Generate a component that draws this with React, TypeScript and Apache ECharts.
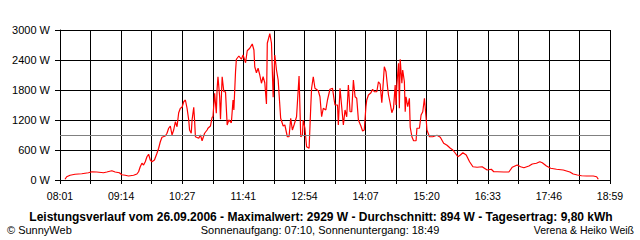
import React, { useEffect, useRef } from "react";
import * as echarts from "echarts";

// Minutes after 08:01
const minutes = [
  6, 8, 12, 18, 26, 34, 38, 44, 52, 56, 62, 66, 71, 74, 78, 82, 88, 92, 94, 96, 98, 100, 102, 104, 106, 108, 110, 113, 116, 118, 120, 122, 126, 128, 130, 132, 134, 136, 138, 140, 142, 144, 146, 148, 150, 152, 154, 155, 157, 158, 160, 161, 162, 166, 168, 170, 173, 176, 177, 180, 182, 183, 185, 187, 188, 189, 191, 192, 194, 196, 198, 200, 202, 205, 207, 208, 210, 211, 214, 217, 219, 222, 224, 227, 230, 232, 233, 235, 237, 239, 241, 243, 245, 247, 248, 251, 253, 255, 257, 259, 261, 264, 267, 269, 272, 274, 276, 278, 280, 283, 286, 288, 290, 291, 293, 295, 298, 300, 301, 303, 305, 309, 311, 313, 315, 318, 320, 323, 326, 328, 329, 332, 333, 335, 337, 339, 341, 343, 345, 347, 349, 351, 353, 355, 357, 360, 362, 364, 366, 367, 369, 372, 374, 376, 379, 381, 383, 385, 386, 388, 390, 392, 393, 395, 397, 399, 401, 402, 403, 405, 406, 407, 409, 410, 412, 413, 414, 416, 418, 419, 421, 423, 426, 427, 430, 432, 434, 436, 438, 439, 442, 446, 451, 455, 459, 463, 467, 470, 473, 476, 479, 482, 486, 490, 494, 499, 505, 511, 516, 519, 523, 531, 537, 541, 547, 551, 555, 561, 565, 570, 574, 577, 582, 587, 594, 602, 606, 610, 614, 619, 624, 630, 638, 642, 644,
];
// Power in W
const watts = [
  15, 65, 95, 115, 125, 145, 165, 160, 145, 160, 185, 160, 145, 105, 95, 80, 95, 120, 165, 265, 335, 300, 365, 465, 515, 400, 365, 400, 535, 635, 765, 855, 880, 935, 1035, 1080, 900, 1000, 1165, 1065, 1345, 1435, 1455, 1565, 1600, 1435, 1200, 1000, 935, 1200, 1455, 1200, 865, 835, 900, 785, 935, 1000, 1035, 1080, 1255, 1265, 1735, 1335, 1835, 2065, 1665, 1215, 2065, 1765, 1765, 1100, 1200, 1145, 1600, 1400, 2165, 2415, 2480, 2415, 2500, 2345, 2585, 2635, 2720, 2600, 2265, 2145, 2235, 2100, 1935, 2065, 1945, 1520, 2735, 2929, 2735, 1655, 2500, 2200, 2000, 1235, 1080, 1100, 865, 865, 1235, 1000, 1100, 1265, 2080, 865, 900, 1200, 1035, 665, 635, 1465, 1835, 2065, 1835, 1785, 1665, 1265, 1435, 1400, 1600, 1815, 1835, 1600, 1500, 1500, 1100, 1835, 1465, 1100, 1400, 1265, 1900, 1365, 1365, 2000, 1665, 1635, 1200, 1080, 980, 1000, 1465, 1600, 1700, 1745, 1815, 1765, 1765, 1965, 1920, 1545, 1765, 2265, 2165, 1835, 1700, 1535, 1345, 1435, 1900, 1500, 1900, 2335, 1435, 2415, 1935, 2200, 1965, 1365, 1665, 1465, 1635, 1055, 865, 785, 785, 1035, 1035, 1300, 1365, 1635, 1235, 1000, 865, 865, 895, 855, 735, 695, 635, 600, 535, 465, 500, 545, 500, 365, 265, 255, 265, 200, 215, 165, 165, 160, 160, 255, 300, 265, 245, 280, 320, 335, 365, 345, 280, 235, 215, 200, 180, 160, 120, 100, 85, 80, 80, 65, 15,
];

const timeLabels = ["08:01", "09:14", "10:27", "11:41", "12:54", "14:07", "15:20", "16:33", "17:46", "18:59"];
const AVERAGE = 894;
const Y_MAX = 3000;
const Y_STEP = 600;
const X_SPAN = 658;
const X_STEPS = 18;

const TITLE = "Leistungsverlauf vom 26.09.2006 - Maximalwert: 2929 W - Durchschnitt: 894 W - Tagesertrag: 9,80 kWh";
const LEFT_NOTE = "\u00A9 SunnyWeb";
const MID_NOTE = "Sonnenaufgang: 07:10, Sonnenuntergang: 18:49";
const RIGHT_NOTE = "Verena & Heiko Wei\u00DF";

export default function App() {
  const ref = useRef<HTMLDivElement>(null);
  useEffect(() => {
    if (!ref.current) return;
    const chart = echarts.init(ref.current, undefined, { renderer: "svg" });
    const step = X_SPAN / X_STEPS;
    const font = "Liberation Sans, Arial, sans-serif";
    chart.setOption({
      animation: false,
      backgroundColor: "#ffffff",
      grid: { left: 60, right: 30, top: 30, bottom: 60 },
      xAxis: {
        type: "value",
        min: 0,
        max: step * X_STEPS,
        interval: step,
        axisLine: { show: true, lineStyle: { color: "#000", width: 1 } },
        axisTick: { show: true, length: 4, lineStyle: { color: "#000" } },
        splitLine: { show: true, lineStyle: { color: "#000", width: 1 } },
        axisLabel: {
          show: true,
          margin: 10,
          color: "#000",
          fontSize: 10.5,
          fontFamily: font,
          showMinLabel: true,
          showMaxLabel: true,
          formatter: (v: number) => {
            const i = Math.round(v / step);
            return i % 2 === 0 ? timeLabels[i / 2] ?? "" : "";
          },
        },
      },
      yAxis: {
        type: "value",
        min: 0,
        max: Y_MAX,
        interval: Y_STEP,
        axisLine: { show: true, lineStyle: { color: "#000", width: 1 } },
        axisTick: { show: true, length: 5, lineStyle: { color: "#000" } },
        splitLine: { show: true, lineStyle: { color: "#000", width: 1 } },
        axisLabel: {
          margin: 10,
          color: "#000",
          fontSize: 11,
          fontFamily: font,
          formatter: (v: number) => `${v} W`,
        },
      },
      series: [
        {
          type: "line",
          data: minutes.map((m, i) => [m, watts[i]]),
          symbol: "none",
          lineStyle: { color: "#ff0000", width: 1.2 },
          z: 3,
          markLine: {
            silent: true,
            symbol: ["none", "none"],
            label: { show: false },
            lineStyle: { color: "#808080", type: "solid", width: 1 },
            data: [{ yAxis: AVERAGE }],
          },
        },
      ],
      graphic: [
        {
          type: "text",
          x: 321,
          y: 217,
          style: {
            text: TITLE,
            fontSize: 12,
            fontWeight: "bold",
            fontFamily: font,
            fill: "#000",
            align: "center",
            verticalAlign: "middle",
          },
        },
        {
          type: "text",
          x: 7,
          y: 230,
          style: { text: LEFT_NOTE, fontSize: 11, fontFamily: font, fill: "#000", align: "left", verticalAlign: "middle" },
        },
        {
          type: "text",
          x: 320,
          y: 230,
          style: { text: MID_NOTE, fontSize: 11, fontFamily: font, fill: "#000", align: "center", verticalAlign: "middle" },
        },
        {
          type: "text",
          x: 634,
          y: 230,
          style: { text: RIGHT_NOTE, fontSize: 10.5, fontFamily: font, fill: "#000", align: "right", verticalAlign: "middle" },
        },
      ],
    });
    return () => chart.dispose();
  }, []);
  return <div ref={ref} style={{ position: "fixed", left: 0, top: 0, width: 640, height: 240 }} />;
}
